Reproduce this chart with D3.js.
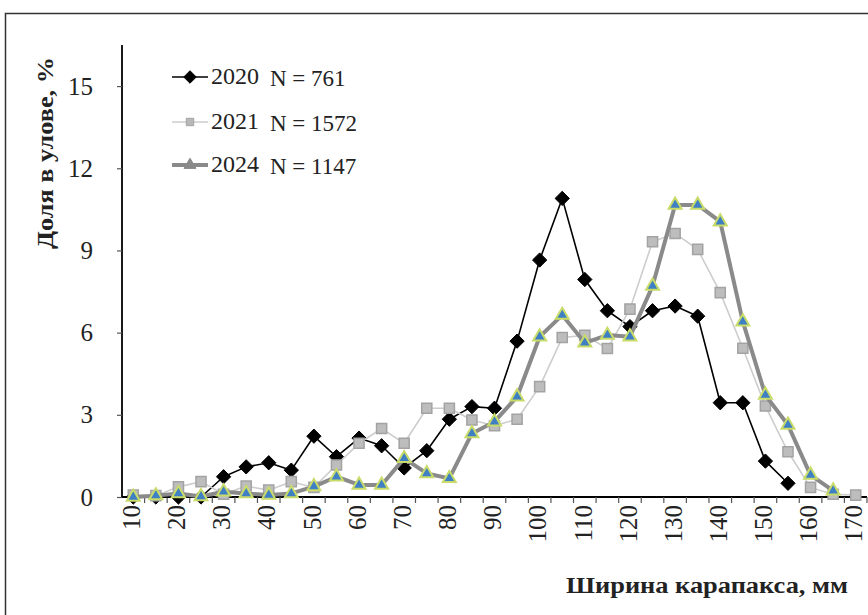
<!DOCTYPE html>
<html><head><meta charset="utf-8">
<script src="https://cdn.jsdelivr.net/npm/d3@7"></script>
<style>body{margin:0;background:#fff}svg{display:block}</style>
</head><body>
<svg id="chart" width="868" height="615"></svg>
<script>
const categories = [10,15,20,25,30,35,40,45,50,55,60,65,70,75,80,85,90,95,100,105,110,115,120,125,130,135,140,145,150,155,160,165,170];
const s2020 = [0,0,0,0,0.74,1.1,1.25,0.98,2.22,1.47,2.15,1.87,1.06,1.69,2.84,3.3,3.24,5.69,8.65,10.9,7.94,6.8,6.22,6.8,6.97,6.6,3.44,3.44,1.31,0.5,null,null,null];
const s2021 = [0.07,0.05,0.37,0.56,0.1,0.4,0.25,0.56,0.35,1.17,1.96,2.5,1.96,3.24,3.24,2.81,2.6,2.84,4.03,5.82,5.9,5.42,6.86,9.32,9.62,9.04,7.46,5.43,3.32,1.65,0.35,0.1,0.07];
const s2024 = [0,0.05,0.13,0.02,0.19,0.13,0.07,0.13,0.38,0.74,0.44,0.44,1.41,0.86,0.68,2.32,2.75,3.66,5.85,6.64,5.63,5.91,5.85,7.7,10.66,10.66,10.05,6.4,3.72,2.63,0.8,0.23,null];
const seriesNames = ["2020","2021","2024"];
const seriesN = ["N = 761","N = 1572","N = 1147"];
const yTicks = [0,3,6,9,12,15];
const xTickLabels = [10,20,30,40,50,60,70,80,90,100,110,120,130,140,150,160,170];
const yTitle = "Доля в улове, %";
const xTitle = "Ширина карапакса, мм";

const svg = d3.select("#chart");
const serif = "'Liberation Serif','Times New Roman',serif";

// outer frame
svg.append("rect").attr("x",5.5).attr("y",13.5).attr("width",900).attr("height",700)
  .attr("fill","none").attr("stroke","#333").attr("stroke-width",1.5);

const x = d3.scaleBand().domain(categories).range([122,867]).paddingInner(0).paddingOuter(0);
const y = d3.scaleLinear().domain([0,16.5]).range([497,45]);
const cx = c => x(c) + x.bandwidth()/2;

// y axis
const yAxis = svg.append("g").attr("transform","translate(122,0)")
  .call(d3.axisLeft(y).tickValues(yTicks).tickSize(5).tickFormat(d3.format("d")));
yAxis.select(".domain").attr("stroke","#000").attr("stroke-width",1.8).attr("d","M0,45V497");
yAxis.selectAll(".tick line").attr("stroke","#555").attr("stroke-width",1.2);
yAxis.selectAll(".tick text").attr("font-family",serif).attr("font-size",25).attr("fill","#222").attr("x",-29);

// x axis line
svg.append("line").attr("x1",122).attr("x2",867).attr("y1",497).attr("y2",497)
  .attr("stroke","#000").attr("stroke-width",2);
// tick marks at band boundaries
svg.append("g").selectAll("line").data(categories).join("line")
  .attr("x1",d=>x(d)+x.bandwidth()).attr("x2",d=>x(d)+x.bandwidth())
  .attr("y1",497).attr("y2",503).attr("stroke","#555").attr("stroke-width",1.2);
// x labels
svg.append("g").selectAll("text").data(xTickLabels).join("text")
  .attr("transform",d=>`translate(${cx(d)-1.5},505) rotate(-90)`)
  .attr("text-anchor","end").attr("dy","0.33em")
  .attr("font-family",serif).attr("font-size",25).attr("fill","#222")
  .text(d=>d);

// titles
svg.append("text").attr("transform","translate(45,153) rotate(-90)")
  .attr("text-anchor","middle").attr("dy","0.35em")
  .attr("font-family",serif).attr("font-weight","bold").attr("font-size",23).attr("fill","#222")
  .attr("textLength",192).attr("lengthAdjust","spacingAndGlyphs")
  .text(yTitle);
svg.append("text").attr("x",848).attr("y",593).attr("text-anchor","end")
  .attr("font-family",serif).attr("font-weight","bold").attr("font-size",23).attr("fill","#222")
  .attr("textLength",282).attr("lengthAdjust","spacingAndGlyphs")
  .text(xTitle);

const line = d3.line().defined(d=>d.v!=null).x(d=>cx(d.c)).y(d=>y(d.v));
const toPts = arr => categories.map((c,i)=>({c, v: arr[i]}));

const styles = [
  {data:s2020, stroke:"#000", sw:1.6, sym:d3.symbolDiamond2, size:130, fill:"#000", mstroke:"#000", msw:1, lfill:"#000", lstroke:"#000"},
  {data:s2021, stroke:"#cdcdcd", sw:1.6, sym:d3.symbolSquare2, size:130, fill:"#bdbdbd", mstroke:"#a3a3a3", msw:1.5, lfill:"#b8b8b8", lstroke:"#a3a3a3"},
  {data:s2024, stroke:"#8a8a8a", sw:4, sym:d3.symbolTriangle2, size:120, fill:"#3f7fc4", mstroke:"#c9dc6a", msw:2, lfill:"#8a8a8a", lstroke:"#8a8a8a"}
];

styles.forEach(st=>{
  const pts = toPts(st.data);
  svg.append("path").datum(pts).attr("d",line).attr("fill","none")
    .attr("stroke",st.stroke).attr("stroke-width",st.sw).attr("stroke-linejoin","round");
  svg.append("g").selectAll("path").data(pts.filter(d=>d.v!=null)).join("path")
    .attr("d",d3.symbol().type(st.sym).size(st.size))
    .attr("transform",d=>`translate(${cx(d.c)},${y(d.v)})`)
    .attr("fill",st.fill).attr("stroke",st.mstroke).attr("stroke-width",st.msw);
});

// legend
const legY = [77,122,165];
styles.forEach((st,i)=>{
  const g = svg.append("g").attr("transform",`translate(0,${legY[i]})`);
  g.append("line").attr("x1",172).attr("x2",208).attr("y1",0).attr("y2",0)
    .attr("stroke",st.stroke).attr("stroke-width",st.sw);
  g.append("path").attr("d",d3.symbol().type(st.sym).size(i===1?70:100))
    .attr("transform","translate(190,0)").attr("fill",st.lfill).attr("stroke",st.lstroke).attr("stroke-width",1);
  g.append("text").attr("x",211).attr("y",0).attr("dy","0.3em")
    .attr("font-family",serif).attr("font-size",24).attr("fill","#222").text(seriesNames[i]);
  g.append("text").attr("x",270).attr("y",2).attr("dy","0.3em")
    .attr("font-family",serif).attr("font-size",23).attr("fill","#222").text(seriesN[i]);
});
</script>
</body></html>
